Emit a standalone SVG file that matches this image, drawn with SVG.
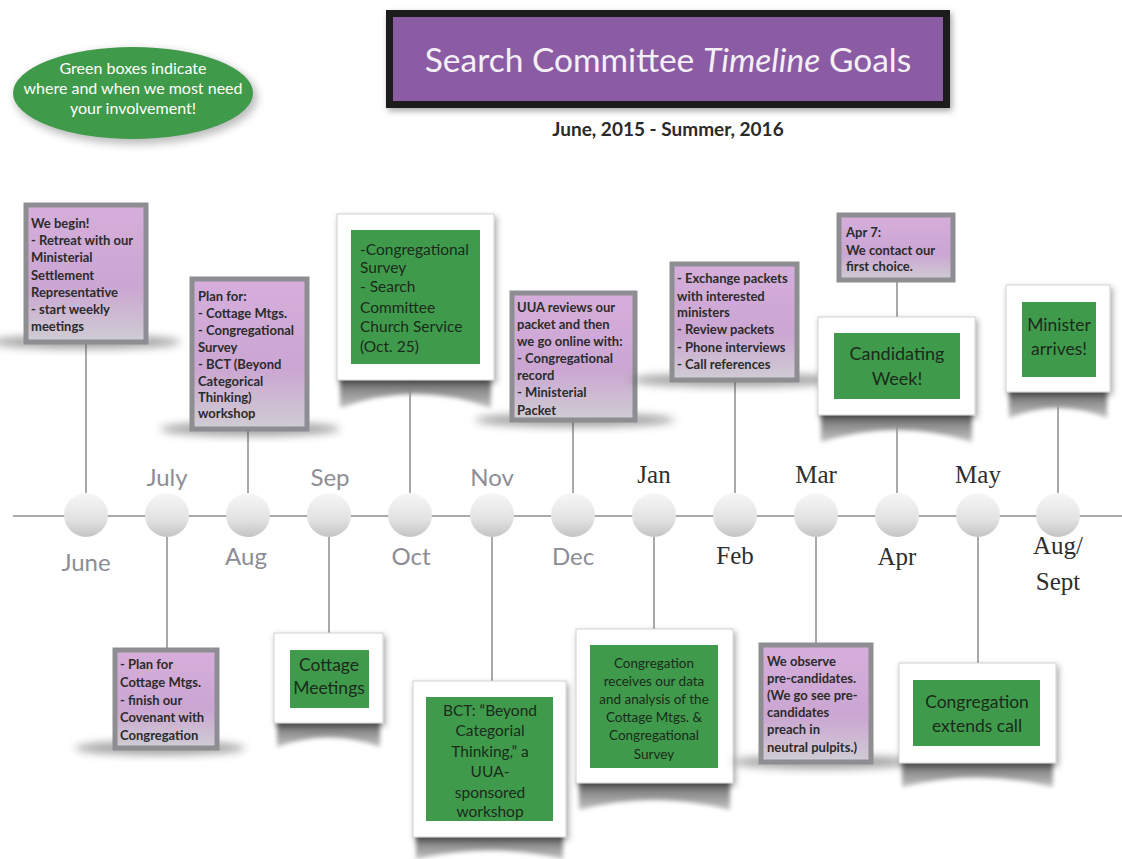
<svg xmlns="http://www.w3.org/2000/svg" width="1122" height="859" viewBox="0 0 1122 859">
<defs>
  <linearGradient id="lav" x1="0" y1="0" x2="0" y2="1">
    <stop offset="0" stop-color="#d6aedb"/>
    <stop offset="0.6" stop-color="#cba6d2"/>
    <stop offset="1" stop-color="#cfcdd3"/>
  </linearGradient>
  <linearGradient id="ball" x1="0" y1="0" x2="0" y2="1">
    <stop offset="0" stop-color="#f7f7f7"/>
    <stop offset="0.6" stop-color="#e2e2e2"/>
    <stop offset="1" stop-color="#c4c4c4"/>
  </linearGradient>
  <linearGradient id="curl" x1="0" y1="0" x2="0" y2="1">
    <stop offset="0" stop-color="#5e5e5e"/>
    <stop offset="1" stop-color="#c4c4c4"/>
  </linearGradient>
  <filter id="blur" x="-20%" y="-50%" width="140%" height="200%"><feGaussianBlur stdDeviation="4"/></filter>
  <filter id="blur2" x="-20%" y="-50%" width="140%" height="200%"><feGaussianBlur stdDeviation="2"/></filter>
  <filter id="ds" x="-10%" y="-10%" width="130%" height="140%"><feDropShadow dx="2" dy="3" stdDeviation="3" flood-color="#000" flood-opacity="0.35"/></filter>
  <style>
    .conn{stroke:#8c8c8c;stroke-width:1.5;fill:none}
    .pbox{fill:url(#lav);stroke:#8d8d92;stroke-width:5}
    .frame{fill:#ffffff;stroke:#d0d0d0;stroke-width:1}
    .green{fill:#3f9b4b}
    .pt{font-family:"Lato","Liberation Sans",sans-serif;font-weight:bold;font-size:13px;fill:#2b2b2b}
    .gt{font-family:"Lato","Liberation Sans",sans-serif;fill:#1b2a1b}
    .mg{font-family:"Lato","Liberation Sans",sans-serif;font-size:24px;fill:#8d8d95;text-anchor:middle}
    .ms{font-family:"Liberation Serif","Times New Roman",serif;font-size:25px;fill:#2e2e2e;text-anchor:middle}
    .sh{fill:#4a4a4a;opacity:0.5}
    .ball{fill:url(#ball)}
  </style>
</defs>
<rect width="1122" height="859" fill="#ffffff"/>

<!-- legend ellipse -->
<g id="legend">
  <ellipse cx="136" cy="97" rx="121" ry="47" fill="#555" opacity="0.4" filter="url(#blur)"/>
  <ellipse cx="133" cy="93" rx="120" ry="46" fill="#3f9a4a"/>
  <text x="133" y="74" font-family="Lato, Liberation Sans, sans-serif" font-size="16" fill="#ffffff" text-anchor="middle">Green boxes indicate</text>
  <text x="133" y="94" font-family="Lato, Liberation Sans, sans-serif" font-size="16" fill="#ffffff" text-anchor="middle">where and when we most need</text>
  <text x="133" y="114" font-family="Lato, Liberation Sans, sans-serif" font-size="16" fill="#ffffff" text-anchor="middle">your involvement!</text>
</g>

<!-- title -->
<g id="title">
  <rect x="386" y="10" width="564" height="98" fill="#1c1c1c" filter="url(#ds)"/>
  <rect x="393" y="17" width="550" height="84" fill="#8b5ca4"/>
  <text x="668" y="72" font-family="Lato, Liberation Sans, sans-serif" font-size="33.5" fill="#f4f0f6" text-anchor="middle">Search Committee <tspan font-style="italic">Timeline</tspan> Goals</text>
  <text x="668" y="136" font-family="Lato, Liberation Sans, sans-serif" font-size="19" font-weight="bold" fill="#2a2a2a" text-anchor="middle">June, 2015 - Summer, 2016</text>
</g>

<!-- connectors -->
<g id="connectors">
  <line class="conn" x1="13" y1="516" x2="1122" y2="516"/>
  <line class="conn" x1="86" y1="344" x2="86" y2="494"/>
  <line class="conn" x1="248" y1="431" x2="248" y2="494"/>
  <line class="conn" x1="410" y1="380" x2="410" y2="494"/>
  <line class="conn" x1="573" y1="422" x2="573" y2="494"/>
  <line class="conn" x1="735" y1="382" x2="735" y2="494"/>
  <line class="conn" x1="897" y1="282" x2="897" y2="494"/>
  <line class="conn" x1="1058" y1="392" x2="1058" y2="494"/>
  <line class="conn" x1="167" y1="537" x2="167" y2="648"/>
  <line class="conn" x1="329" y1="537" x2="329" y2="633"/>
  <line class="conn" x1="492" y1="537" x2="492" y2="681"/>
  <line class="conn" x1="654" y1="537" x2="654" y2="629"/>
  <line class="conn" x1="816" y1="537" x2="816" y2="643"/>
  <line class="conn" x1="978" y1="537" x2="978" y2="663"/>
</g>

<!-- timeline balls and month labels -->
<g id="timeline">
  <circle class="ball" cx="86" cy="515" r="22"/>
  <circle class="ball" cx="167" cy="515" r="22"/>
  <circle class="ball" cx="248" cy="515" r="22"/>
  <circle class="ball" cx="329" cy="515" r="22"/>
  <circle class="ball" cx="410" cy="515" r="22"/>
  <circle class="ball" cx="492" cy="515" r="22"/>
  <circle class="ball" cx="573" cy="515" r="22"/>
  <circle class="ball" cx="654" cy="515" r="22"/>
  <circle class="ball" cx="735" cy="515" r="22"/>
  <circle class="ball" cx="816" cy="515" r="22"/>
  <circle class="ball" cx="897" cy="515" r="22"/>
  <circle class="ball" cx="978" cy="515" r="22"/>
  <circle class="ball" cx="1058" cy="515" r="22"/>
  <text class="mg" x="86" y="571">June</text>
  <text class="mg" x="167" y="486">July</text>
  <text class="mg" x="246" y="565">Aug</text>
  <text class="mg" x="330" y="486">Sep</text>
  <text class="mg" x="411" y="565">Oct</text>
  <text class="mg" x="492" y="486">Nov</text>
  <text class="mg" x="573" y="565">Dec</text>
  <text class="ms" x="654" y="483">Jan</text>
  <text class="ms" x="735" y="564">Feb</text>
  <text class="ms" x="816" y="483">Mar</text>
  <text class="ms" x="897" y="565">Apr</text>
  <text class="ms" x="978" y="483">May</text>
  <text class="ms" x="1058" y="554">Aug/</text>
  <text class="ms" x="1058" y="590">Sept</text>
</g>

<!-- June -->
<g id="june">
  <ellipse class="sh" cx="86" cy="342" rx="95" ry="7" filter="url(#blur)"/>
  <rect class="pbox" x="26" y="205" width="120" height="137"/>
  <text class="pt" x="31" y="228" font-size="15">We begin!</text>
  <text class="pt" x="31" y="245">- Retreat with our</text>
  <text class="pt" x="31" y="262">Ministerial</text>
  <text class="pt" x="31" y="280">Settlement</text>
  <text class="pt" x="31" y="297">Representative</text>
  <text class="pt" x="31" y="314">- start weekly</text>
  <text class="pt" x="31" y="331">meetings</text>
</g>

<!-- Aug -->
<g id="aug">
  <ellipse class="sh" cx="250" cy="429" rx="90" ry="7" filter="url(#blur)"/>
  <rect class="pbox" x="192" y="279" width="115" height="150"/>
  <text class="pt" x="198" y="301">Plan for:</text>
  <text class="pt" x="198" y="318">- Cottage Mtgs.</text>
  <text class="pt" x="198" y="335">- Congregational</text>
  <text class="pt" x="198" y="352">Survey</text>
  <text class="pt" x="198" y="369">- BCT (Beyond</text>
  <text class="pt" x="198" y="386">Categorical</text>
  <text class="pt" x="198" y="402">Thinking)</text>
  <text class="pt" x="198" y="418">workshop</text>
</g>

<!-- Oct -->
<g id="oct">
  <path d="M340,376 L340,408 Q415,380 491,408 L491,376 Z" fill="url(#curl)" filter="url(#blur2)"/>
  <rect class="frame" x="337" y="214" width="157" height="166" filter="url(#ds)"/>
  <rect class="green" x="351" y="230" width="129" height="134"/>
  <g class="gt" font-size="15.5">
    <text x="360" y="255">-Congregational</text>
    <text x="360" y="273">Survey</text>
    <text x="360" y="292">- Search</text>
    <text x="360" y="313">Committee</text>
    <text x="360" y="332">Church Service</text>
    <text x="360" y="352">(Oct. 25)</text>
  </g>
</g>

<!-- Dec -->
<g id="dec">
  <ellipse class="sh" cx="575" cy="420" rx="100" ry="7" filter="url(#blur)"/>
  <rect class="pbox" x="512" y="293" width="123" height="127"/>
  <text class="pt" x="517" y="312">UUA reviews our</text>
  <text class="pt" x="517" y="329">packet and then</text>
  <text class="pt" x="517" y="346">we go online with:</text>
  <text class="pt" x="517" y="363">- Congregational</text>
  <text class="pt" x="517" y="380">record</text>
  <text class="pt" x="517" y="397">- Ministerial</text>
  <text class="pt" x="517" y="415">Packet</text>
</g>

<!-- Feb -->
<g id="feb">
  <ellipse class="sh" cx="735" cy="380" rx="105" ry="7" filter="url(#blur)"/>
  <rect class="pbox" x="672" y="264" width="125" height="116"/>
  <text class="pt" x="677" y="283">- Exchange packets</text>
  <text class="pt" x="677" y="301">with interested</text>
  <text class="pt" x="677" y="317">ministers</text>
  <text class="pt" x="677" y="334">- Review packets</text>
  <text class="pt" x="677" y="352">- Phone interviews</text>
  <text class="pt" x="677" y="369">- Call references</text>
</g>

<!-- Apr 7 -->
<g id="apr7">
  <rect class="pbox" x="839" y="215" width="114" height="65"/>
  <text class="pt" x="846" y="237">Apr 7:</text>
  <text class="pt" x="846" y="255">We contact our</text>
  <text class="pt" x="846" y="271">first choice.</text>
</g>

<!-- Apr candidating -->
<g id="apr">
  <path d="M821,411 L821,442 Q897,418 972,442 L972,411 Z" fill="url(#curl)" filter="url(#blur2)"/>
  <rect class="frame" x="818" y="317" width="157" height="98" filter="url(#ds)"/>
  <rect class="green" x="834" y="333" width="126" height="66"/>
  <text class="gt" x="897" y="360" font-size="18" text-anchor="middle">Candidating</text>
  <text class="gt" x="897" y="385" font-size="18" text-anchor="middle">Week!</text>
</g>

<!-- Aug/Sept -->
<g id="augsept">
  <path d="M1009,388 L1009,418 Q1058,398 1107,418 L1107,388 Z" fill="url(#curl)" filter="url(#blur2)"/>
  <rect class="frame" x="1006" y="285" width="104" height="107" filter="url(#ds)"/>
  <rect class="green" x="1022" y="302" width="74" height="75"/>
  <text class="gt" x="1059" y="331" font-size="17.5" text-anchor="middle">Minister</text>
  <text class="gt" x="1059" y="355" font-size="17.5" text-anchor="middle">arrives!</text>
</g>

<!-- July -->
<g id="july">
  <ellipse class="sh" cx="160" cy="748" rx="85" ry="7" filter="url(#blur)"/>
  <rect class="pbox" x="115" y="650" width="102" height="98"/>
  <text class="pt" x="120" y="669">- Plan for</text>
  <text class="pt" x="120" y="687">Cottage Mtgs.</text>
  <text class="pt" x="120" y="705">- finish our</text>
  <text class="pt" x="120" y="722">Covenant with</text>
  <text class="pt" x="120" y="740">Congregation</text>
</g>

<!-- Sep -->
<g id="sep">
  <path d="M277,719 L277,747 Q329,728 380,747 L380,719 Z" fill="url(#curl)" filter="url(#blur2)"/>
  <rect class="frame" x="274" y="633" width="109" height="90" filter="url(#ds)"/>
  <rect class="green" x="290" y="650" width="79" height="58"/>
  <text class="gt" x="329" y="671" font-size="17.5" text-anchor="middle">Cottage</text>
  <text class="gt" x="329" y="694" font-size="17.5" text-anchor="middle">Meetings</text>
</g>

<!-- Nov -->
<g id="nov">
  <path d="M416,833 L416,859 Q490,842 563,859 L563,833 Z" fill="url(#curl)" filter="url(#blur2)"/>
  <rect class="frame" x="413" y="681" width="153" height="156" filter="url(#ds)"/>
  <rect class="green" x="426" y="697" width="127" height="124"/>
  <g class="gt" font-size="15.5" text-anchor="middle">
    <text x="490" y="716">BCT: “Beyond</text>
    <text x="490" y="736">Categorial</text>
    <text x="490" y="757">Thinking,” a</text>
    <text x="490" y="777">UUA-</text>
    <text x="490" y="798">sponsored</text>
    <text x="490" y="817">workshop</text>
  </g>
</g>

<!-- Jan -->
<g id="jan">
  <path d="M579,779 L579,810 Q654,790 730,810 L730,779 Z" fill="url(#curl)" filter="url(#blur2)"/>
  <rect class="frame" x="576" y="629" width="157" height="154" filter="url(#ds)"/>
  <rect class="green" x="590" y="645" width="128" height="123"/>
  <g class="gt" font-size="13.5" text-anchor="middle">
    <text x="654" y="668">Congregation</text>
    <text x="654" y="686">receives our data</text>
    <text x="654" y="704">and analysis of the</text>
    <text x="654" y="722">Cottage Mtgs. &amp;</text>
    <text x="654" y="740">Congregational</text>
    <text x="654" y="759">Survey</text>
  </g>
</g>

<!-- Mar -->
<g id="mar">
  <ellipse class="sh" cx="822" cy="762" rx="90" ry="7" filter="url(#blur)"/>
  <rect class="pbox" x="761" y="645" width="110" height="117"/>
  <text class="pt" x="767" y="666">We observe</text>
  <text class="pt" x="767" y="683">pre-candidates.</text>
  <text class="pt" x="767" y="700">(We go see pre-</text>
  <text class="pt" x="767" y="717">candidates</text>
  <text class="pt" x="767" y="734">preach in</text>
  <text class="pt" x="767" y="752">neutral pulpits.)</text>
</g>

<!-- May -->
<g id="may">
  <path d="M902,759 L902,787 Q977,768 1053,787 L1053,759 Z" fill="url(#curl)" filter="url(#blur2)"/>
  <rect class="frame" x="899" y="663" width="157" height="100" filter="url(#ds)"/>
  <rect class="green" x="913" y="680" width="127" height="66"/>
  <text class="gt" x="977" y="708" font-size="17.5" text-anchor="middle">Congregation</text>
  <text class="gt" x="977" y="732" font-size="17.5" text-anchor="middle">extends call</text>
</g>
</svg>
